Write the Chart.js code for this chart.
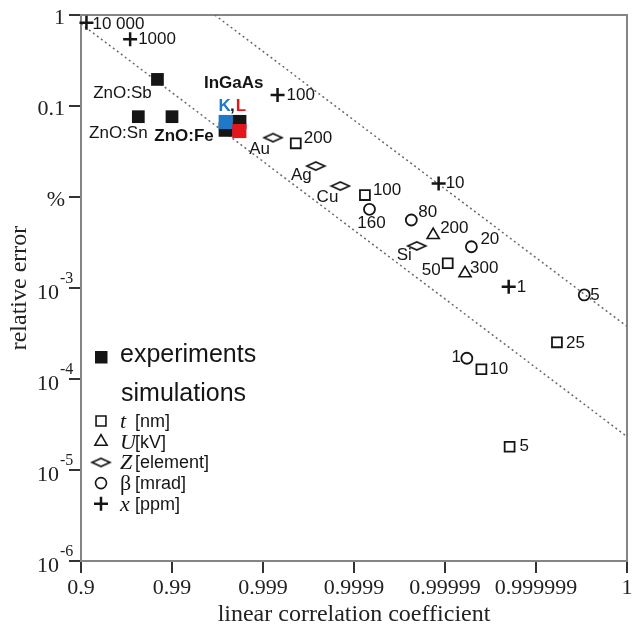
<!DOCTYPE html>
<html>
<head>
<meta charset="utf-8">
<script src="https://cdn.jsdelivr.net/npm/chart.js@4.4.1/dist/chart.umd.min.js"></script>
<style>
  html, body { margin: 0; padding: 0; background: #fff; }
  #wrap { width: 644px; height: 629px; }
</style>
</head>
<body>
<div id="wrap"><canvas id="errChart" width="644" height="629"></canvas></div>
<script>
// x axis is -log10(1 - r): 1 -> 0.9, 2 -> 0.99 ... 7 -> "1"
var xTickVals = [1, 2, 3, 4, 5, 6, 7];
var xTickLabels = ['0.9', '0.99', '0.999', '0.9999', '0.99999', '0.999999', '1'];
var yTickVals = [1e-6, 1e-5, 1e-4, 1e-3, 1e-2, 1e-1, 1];
var yTickLabels = ['10^-6', '10^-5', '10^-4', '10^-3', '%', '0.1', '1'];

// experiments
var expX = [1.84, 1.63, 2.00];
var expY = [0.196, 0.0763, 0.0763];
var expLabels = ['ZnO:Sb', 'ZnO:Sn', 'ZnO:Fe'];
var ingaasX = [2.59, 2.74];            // K, L
var ingaasBlackY = [0.0549, 0.0667];
var ingaasColorY = [0.0667, 0.0531];

// simulations
var tX = [3.36, 4.12, 5.03, 6.23, 5.40, 5.71];
var tY = [0.0389, 0.0105, 0.00187, 2.53e-4, 1.28e-4, 1.8e-5];
var tLabels = ['200', '100', '50', '25', '10', '5'];

var uX = [4.87, 5.22];
var uY = [0.00382, 0.00145];
var uLabels = ['200', '300'];

var zX = [3.11, 3.58, 3.85, 4.69];
var zY = [0.0449, 0.0219, 0.0132, 0.0029];
var zLabels = ['Au', 'Ag', 'Cu', 'Si'];

var betaX = [4.17, 4.63, 5.29, 6.53, 5.24];
var betaY = [0.00733, 0.00559, 0.00284, 8.4e-4, 1.69e-4];
var betaLabels = ['160', '80', '20', '5', '1'];

var ppmX = [1.06, 1.54, 3.16, 4.93, 5.70];
var ppmY = [0.82, 0.54, 0.132, 0.0141, 0.00103];
var ppmLabels = ['10 000', '1000', '100', '10', '1'];

// dotted guide lines
var lowerX = [1, 7];
var lowerY = [0.80, 2.33e-5];
var upperX = [2.47, 7];
var upperY = [1, 3.78e-4];

var BLUE = '#1f78c8';
var RED = '#e3161d';
var INK = '#151515';
var SANS = '"Liberation Sans", Arial, Helvetica, sans-serif';
var SERIF = '"Liberation Serif", "Times New Roman", serif';

function toXY(xs, ys) {
  return xs.map(function(x, i) { return { x: x, y: ys[i] }; });
}

// flat diamond used for the Z [element] marker
function makeDiamond(w, h, lw) {
  var c = document.createElement('canvas');
  c.width = w + 4; c.height = h + 4;
  var g = c.getContext('2d');
  g.lineWidth = lw;
  g.strokeStyle = INK;
  g.beginPath();
  g.moveTo(2, 2 + h / 2);
  g.lineTo(2 + w / 2, 2);
  g.lineTo(2 + w, 2 + h / 2);
  g.lineTo(2 + w / 2, 2 + h);
  g.closePath();
  g.stroke();
  return c;
}
var diamond = makeDiamond(18, 8, 1.6);

function openMarks(style, radius, width) {
  return {
    pointStyle: style, pointRadius: radius, pointHoverRadius: radius,
    pointBackgroundColor: 'rgba(0,0,0,0)', pointBorderColor: INK,
    pointBorderWidth: width, clip: false, order: 1
  };
}

// labels next to the markers
var pointLabelPlugin = {
  id: 'pointLabels',
  afterDatasetsDraw: function(chart) {
    var ctx = chart.ctx;
    chart.data.datasets.forEach(function(ds, di) {
      if (!ds.pointLabels) return;
      var meta = chart.getDatasetMeta(di);
      meta.data.forEach(function(pt, i) {
        var txt = ds.pointLabels[i];
        if (!txt) return;
        var p = ds.labelPos[i];
        var bold = ds.labelBold && ds.labelBold[i];
        ctx.save();
        ctx.font = (bold ? 'bold ' : '') + '17px ' + SANS;
        ctx.fillStyle = ds.labelColors ? ds.labelColors[i] : INK;
        ctx.textAlign = p[2];
        ctx.textBaseline = 'middle';
        ctx.fillText(txt, pt.x + p[0], pt.y + p[1]);
        ctx.restore();
      });
    });
  }
};

// box around the plot
var framePlugin = {
  id: 'frame',
  beforeDatasetsDraw: function(chart) {
    var a = chart.chartArea, ctx = chart.ctx;
    ctx.save();
    ctx.strokeStyle = '#858585';
    ctx.lineWidth = 2;
    ctx.strokeRect(a.left, a.top, a.right - a.left, a.bottom - a.top);
    ctx.restore();
  }
};

// y tick labels with raised exponents
var yLabelPlugin = {
  id: 'yLabels',
  afterDraw: function(chart) {
    var s = chart.scales.y, ctx = chart.ctx;
    ctx.save();
    ctx.fillStyle = '#222';
    ctx.textBaseline = 'alphabetic';
    yTickVals.forEach(function(v, i) {
      var py = s.getPixelForValue(v);
      var lab = yTickLabels[i];
      if (lab.indexOf('10^') === 0) {
        ctx.font = '22px ' + SERIF;
        ctx.textAlign = 'right';
        ctx.fillText('10', 59, py + 11);
        ctx.font = '16px ' + SERIF;
        ctx.textAlign = 'left';
        ctx.fillText(lab.slice(3), 60, py - 5);
      } else {
        ctx.font = '22px ' + SERIF;
        ctx.textAlign = 'right';
        ctx.fillText(lab, 65, py + 9);
      }
    });
    ctx.restore();
  }
};

var legendRows = [
  { style: 'rect', radius: 7, sym: 't', unit: '[nm]', italic: true },
  { style: 'triangle', radius: 7, sym: 'U', unit: '[kV]', italic: true },
  { style: diamond, radius: 7, sym: 'Z', unit: '[element]', italic: true },
  { style: 'circle', radius: 5.5, sym: '\u03b2', unit: '[mrad]', italic: false },
  { style: 'cross', radius: 7, sym: 'x', unit: '[ppm]', italic: true }
];

var legendPlugin = {
  id: 'customLegend',
  afterDraw: function(chart) {
    var ctx = chart.ctx;
    ctx.save();
    ctx.fillStyle = INK;
    ctx.fillRect(95, 351, 12.5, 12.5);
    ctx.font = '25px ' + SANS;
    ctx.textBaseline = 'alphabetic';
    ctx.textAlign = 'left';
    ctx.fillText('experiments', 120, 362);
    ctx.fillText('simulations', 121, 401);
    legendRows.forEach(function(row, i) {
      var cy = 421 + i * 20.7;
      ctx.save();
      ctx.strokeStyle = INK;
      ctx.fillStyle = 'rgba(0,0,0,0)';
      ctx.lineWidth = row.style === 'cross' ? 2.5 : 1.6;
      Chart.helpers.drawPoint(ctx, { pointStyle: row.style, radius: row.radius, rotation: 0, borderWidth: ctx.lineWidth }, 101, cy);
      ctx.restore();
      ctx.fillStyle = INK;
      ctx.font = (row.italic ? 'italic ' : '') + '22px ' + SERIF;
      ctx.fillText(row.sym, 120, cy + 7);
      ctx.font = '18px ' + SANS;
      ctx.fillText(row.unit, 135, cy + 6);
    });
    ctx.restore();
  }
};

var ctx = document.getElementById('errChart').getContext('2d');
var errChart = new Chart(ctx, {
  type: 'scatter',
  data: {
    datasets: [
      {
        label: 'guide lower', data: toXY(lowerX, lowerY), showLine: true,
        pointRadius: 0, borderColor: '#6a6a6a', borderWidth: 1.5, borderDash: [2, 3], order: 10
      },
      {
        label: 'guide upper', data: toXY(upperX, upperY), showLine: true,
        pointRadius: 0, borderColor: '#6a6a6a', borderWidth: 1.5, borderDash: [2, 3], order: 10
      },
      {
        label: 'InGaAs', data: toXY(ingaasX, ingaasBlackY),
        pointStyle: 'rect', pointRadius: 10, pointHoverRadius: 10,
        pointBackgroundColor: INK, pointBorderWidth: 0, clip: false, order: 6,
        pointLabels: ['InGaAs', ','], labelPos: [[8, -46, 'center'], [-7, -16, 'center']],
        labelBold: [true, true]
      },
      {
        label: 'InGaAs K, L', data: toXY(ingaasX, ingaasColorY),
        pointStyle: 'rect', pointRadius: 10, pointHoverRadius: 10,
        pointBackgroundColor: [BLUE, RED], pointBorderWidth: 0, clip: false, order: 5,
        pointLabels: ['K', 'L'], labelPos: [[-1, -16, 'center'], [1.5, -25, 'center']],
        labelColors: [BLUE, RED], labelBold: [true, true]
      },
      {
        label: 'experiments', data: toXY(expX, expY),
        pointStyle: 'rect', pointRadius: 9, pointHoverRadius: 9,
        pointBackgroundColor: INK, pointBorderWidth: 0, clip: false, order: 1,
        pointLabels: expLabels,
        labelPos: [[-35, 14, 'center'], [-20, 17, 'center'], [12, 20, 'center']],
        labelBold: [false, false, true]
      },
      Object.assign({
        label: 't [nm]', data: toXY(tX, tY), pointLabels: tLabels,
        labelPos: [[8, -5, 'left'], [8, -5, 'left'], [-7, 7, 'right'], [9, 1, 'left'], [8, 0, 'left'], [10, 0, 'left']]
      }, openMarks('rect', 7, 1.8)),
      Object.assign({
        label: 'U [kV]', data: toXY(uX, uY), pointLabels: uLabels,
        labelPos: [[7, -7, 'left'], [5, -5, 'left']]
      }, openMarks('triangle', 7, 1.6)),
      Object.assign({
        label: 'Z [element]', data: toXY(zX, zY), pointLabels: zLabels,
        labelPos: [[-3, 12, 'right'], [-4, 9, 'right'], [-2, 11, 'right'], [-5, 9, 'right']]
      }, openMarks(diamond, 7, 1.6)),
      Object.assign({
        label: 'beta [mrad]', data: toXY(betaX, betaY), pointLabels: betaLabels,
        labelPos: [[2, 14, 'center'], [7, -8, 'left'], [9, -7, 'left'], [6, 0, 'left'], [-6, -1, 'right']]
      }, openMarks('circle', 5.5, 1.8)),
      Object.assign({
        label: 'x [ppm]', data: toXY(ppmX, ppmY), pointLabels: ppmLabels,
        labelPos: [[6, 1, 'left'], [8, 0, 'left'], [9, 0, 'left'], [7, 0, 'left'], [8, 0, 'left']]
      }, openMarks('cross', 7, 2.5))
    ]
  },
  options: {
    responsive: false,
    animation: false,
    events: [],
    layout: { padding: { top: 15, right: 17, left: 0, bottom: 0 } },
    plugins: { legend: { display: false }, tooltip: { enabled: false } },
    scales: {
      x: {
        type: 'linear', min: 1, max: 7,
        afterBuildTicks: function(s) { s.ticks = xTickVals.map(function(v) { return { value: v }; }); },
        afterFit: function(s) { s.height = 68; },
        ticks: {
          callback: function(v, i) { return xTickLabels[i]; },
          font: { family: SERIF, size: 22 }, color: '#222',
          autoSkip: false, maxRotation: 0, padding: 2
        },
        grid: { drawOnChartArea: false, tickLength: 12, color: '#333', lineWidth: 2 },
        border: { color: '#858585', width: 2 },
        title: {
          display: true, text: 'linear correlation coefficient',
          font: { family: SERIF, size: 24 }, color: '#222', padding: { top: 0, bottom: 0 }
        }
      },
      y: {
        type: 'logarithmic', min: 1e-6, max: 1,
        afterBuildTicks: function(s) { s.ticks = yTickVals.map(function(v) { return { value: v }; }); },
        afterFit: function(s) { s.width = 81; },
        ticks: { display: false },
        grid: { drawOnChartArea: false, tickLength: 12, color: '#333', lineWidth: 2 },
        border: { color: '#858585', width: 2 },
        title: {
          display: true, text: 'relative error',
          font: { family: SERIF, size: 24 }, color: '#222', padding: { top: 5, bottom: 0 }
        }
      }
    }
  },
  plugins: [framePlugin, pointLabelPlugin, yLabelPlugin, legendPlugin]
});
</script>
</body>
</html>
